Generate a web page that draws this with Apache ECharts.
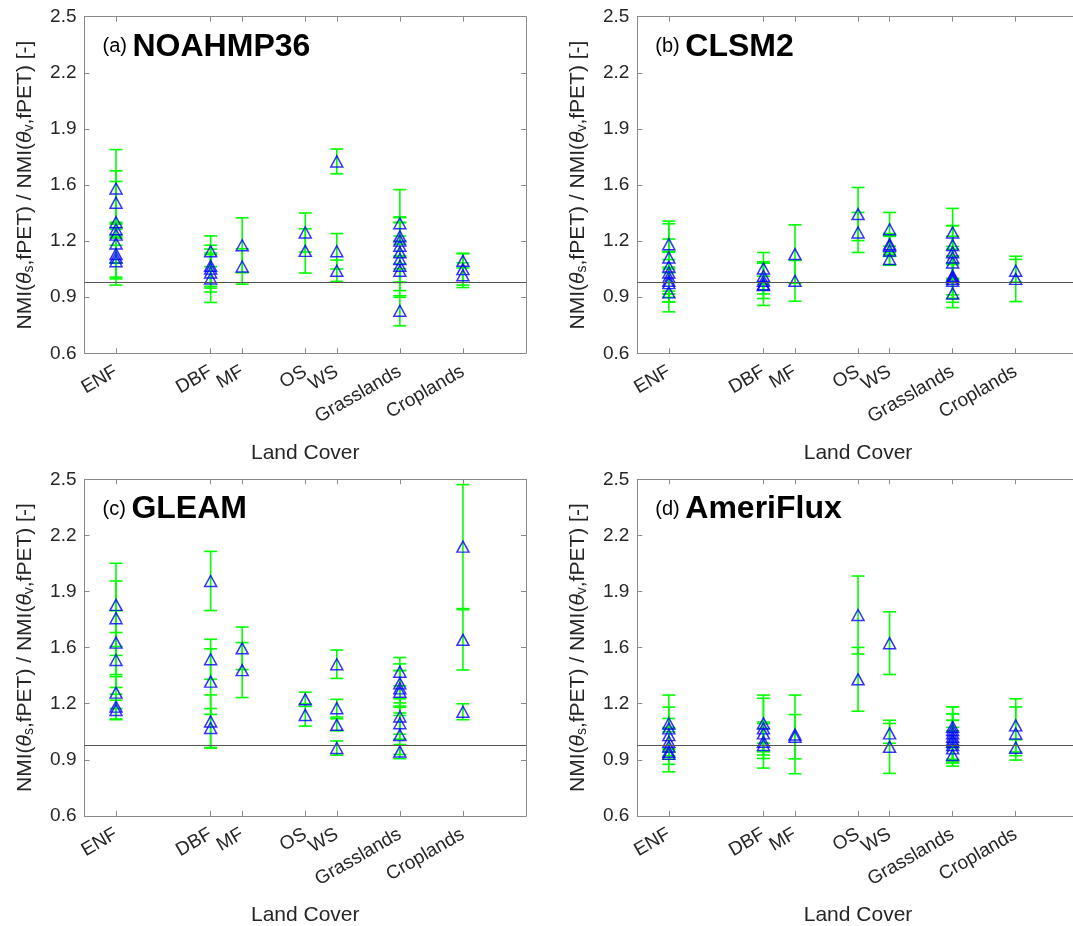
<!DOCTYPE html>
<html><head><meta charset="utf-8">
<script src="https://cdn.jsdelivr.net/npm/echarts@6/dist/echarts.min.js"></script>
<style>html,body{margin:0;padding:0;background:#fff}#c{width:1073px;height:926px}</style>
</head><body><div id="c"></div>
<script>
// ---- categories & axes ----
const landCovers = ['ENF', 'DBF', 'MF', 'OS', 'WS', 'Grasslands', 'Croplands'];
const landCoverPos = [1, 4, 5, 7, 8, 10, 12];
const yTickLabels = ['0.6', '0.9', '1.2', '1.6', '1.9', '2.2', '2.5'];
const yMin = 0.6, yMax = 2.5, xMin = 0, xMax = 14, refValue = 1;
const panelLabels = ['(a)', '(b)', '(c)', '(d)'];
const panelNames = ['NOAHMP36', 'CLSM2', 'GLEAM', 'AmeriFlux'];

// ---- data: [landCoverIndex, value, errorHalfWidth] ----
const noahmp36Points = [
  [0,1.53,0.22],[0,1.45,0.18],[0,1.34,0.23],[0,1.30,0.04],[0,1.27,0.06],[0,1.22,0.11],[0,1.16,0.14],[0,1.14,0.11],[0,1.12,0.135],
  [1,1.176,0.087],[1,1.094,0.116],[1,1.078,0.11],[1,1.056,0.11],[1,1.022,0.135],
  [2,1.21,0.155],[2,1.09,0.10],
  [3,1.282,0.11],[3,1.178,0.125],
  [4,1.683,0.07],[4,1.176,0.10],[4,1.066,0.06],
  [5,1.334,0.19],[5,1.26,0.11],[5,1.236,0.13],[5,1.207,0.13],[5,1.17,0.17],[5,1.132,0.13],[5,1.094,0.14],[5,1.066,0.15],[5,0.84,0.085],
  [6,1.122,0.04],[6,1.075,0.09],[6,1.041,0.07]
];
const clsm2Points = [
  [0,1.216,0.13],[0,1.141,0.19],[0,1.09,0.155],[0,1.056,0.12],[0,1.03,0.14],[0,1.009,0.12],[0,0.996,0.08],[0,0.944,0.11],
  [1,1.079,0.09],[1,1.037,0.08],[1,1.009,0.10],[1,0.99,0.12],[1,0.985,0.05],
  [2,1.16,0.165],[2,1.009,0.115],
  [3,1.386,0.15],[3,1.282,0.113],
  [4,1.30,0.095],[4,1.216,0.06],[4,1.207,0.06],[4,1.18,0.08],[4,1.132,0.035],
  [5,1.282,0.136],[5,1.211,0.11],[5,1.17,0.15],[5,1.141,0.12],[5,1.113,0.09],[5,1.038,0.15],[5,1.03,0.12],[5,1.02,0.09],[5,1.009,0.10],[5,0.938,0.08],
  [6,1.066,0.064],[6,1.02,0.128]
];
const gleamPoints = [
  [0,1.791,0.235],[0,1.716,0.21],[0,1.578,0.18],[0,1.48,0.155],[0,1.296,0.09],[0,1.217,0.07],[0,1.198,0.055],
  [1,1.926,0.167],[1,1.484,0.113],[1,1.358,0.185],[1,1.133,0.15],[1,1.096,0.11],
  [2,1.546,0.12],[2,1.423,0.155],
  [3,1.258,0.04],[3,1.17,0.063],
  [4,1.456,0.08],[4,1.208,0.05],[4,1.114,0.034],[4,0.983,0.04],
  [5,1.414,0.08],[5,1.348,0.11],[5,1.32,0.10],[5,1.301,0.12],[5,1.161,0.10],[5,1.123,0.09],[5,1.057,0.11],[5,0.963,0.04],
  [6,2.12,0.35],[6,1.594,0.17],[6,1.188,0.045]
];
const ameriFluxPoints = [
  [0,1.122,0.16],[0,1.094,0.12],[0,1.056,0.094],[0,1.019,0.08],[0,0.991,0.10],[0,0.962,0.113],[0,0.95,0.03],
  [1,1.122,0.16],[1,1.094,0.17],[1,1.066,0.055],[1,1.019,0.075],[1,1.0,0.13],
  [2,1.06,0.222],[2,1.047,0.125],
  [3,1.734,0.22],[3,1.371,0.18],
  [4,1.575,0.177],[4,1.066,0.056],[4,0.99,0.15],
  [5,1.103,0.113],[5,1.085,0.09],[5,1.066,0.15],[5,1.047,0.13],[5,1.03,0.11],[5,1.019,0.12],[5,1.0,0.10],[5,0.981,0.10],[5,0.944,0.04],
  [6,1.111,0.15],[6,1.065,0.15],[6,0.985,0.045]
];
const panelPoints = [noahmp36Points, clsm2Points, gleamPoints, ameriFluxPoints];

// ---- layout / style ----
const FONT = '"Liberation Sans", Arial, Helvetica, sans-serif';
const TXT = '#262626';
const AX = '#8a8a8a';
const gridPos = [
  {left: 84.5, top: 16.7}, {left: 637.3, top: 16.7},
  {left: 84.5, top: 479.3}, {left: 637.3, top: 479.3}
];
const GW = 441.5, GH = 336.6;

const yTickVals = yTickLabels.map((_, i) => yMin + i * (yMax - yMin) / (yTickLabels.length - 1));
function nearestIdx(arr, v) {
  let b = 0;
  for (let i = 1; i < arr.length; i++) if (Math.abs(arr[i] - v) < Math.abs(arr[b] - v)) b = i;
  return b;
}

const grid = [], xAxis = [], yAxis = [], series = [], title = [];
const axLine = {show: true, onZero: false, lineStyle: {color: AX, width: 1}};
const yName = '{n|NMI(}{t|θ}{s|s}{n|,fPET) / NMI(}{t|θ}{s|v}{n|,fPET) [-]}';

gridPos.forEach((g, i) => {
  grid.push({left: g.left, top: g.top, width: GW, height: GH, containLabel: false, outerBoundsMode: 'none'});
  // bottom x
  xAxis.push({
    gridIndex: i, type: 'value', min: xMin, max: xMax, position: 'bottom',
    axisLine: axLine,
    axisTick: {show: true, inside: true, length: 5, customValues: landCoverPos, lineStyle: {color: AX}},
    axisLabel: {show: true, customValues: landCoverPos, rotate: 30, margin: 17,
      formatter: v => landCovers[nearestIdx(landCoverPos, v)],
      fontSize: 19, color: TXT, fontFamily: FONT},
    splitLine: {show: false},
    name: 'Land Cover', nameLocation: 'middle', nameGap: 89,
    nameTextStyle: {fontSize: 21, color: TXT, fontFamily: FONT}
  });
  // top x (box)
  xAxis.push({
    gridIndex: i, type: 'value', min: xMin, max: xMax, position: 'top',
    axisLine: axLine,
    axisTick: {show: true, inside: true, length: 5, customValues: landCoverPos, lineStyle: {color: AX}},
    axisLabel: {show: false}, splitLine: {show: false}
  });
  // left y
  yAxis.push({
    gridIndex: i, type: 'value', min: yMin, max: yMax, position: 'left',
    axisLine: axLine,
    axisTick: {show: true, inside: true, length: 5, customValues: yTickVals, lineStyle: {color: AX}},
    axisLabel: {show: true, customValues: yTickVals, margin: 8,
      formatter: v => yTickLabels[nearestIdx(yTickVals, v)],
      fontSize: 19, color: TXT, fontFamily: FONT},
    splitLine: {show: false},
    name: yName, nameLocation: 'middle', nameGap: 48, nameRotate: 90,
    nameTextStyle: {
      fontSize: 21, color: TXT, fontFamily: FONT,
      rich: {
        n: {fontSize: 21, color: TXT, fontFamily: FONT, verticalAlign: 'top', lineHeight: 22},
        t: {fontSize: 21, color: TXT, fontFamily: FONT, fontStyle: 'italic', verticalAlign: 'top', lineHeight: 22},
        s: {fontSize: 14, color: TXT, fontFamily: FONT, verticalAlign: 'bottom', lineHeight: 14, padding: [11, 0, 0, 0]}
      }
    }
  });
  // right y (box)
  yAxis.push({
    gridIndex: i, type: 'value', min: yMin, max: yMax, position: 'right',
    axisLine: axLine,
    axisTick: {show: true, inside: true, length: 5, customValues: yTickVals, lineStyle: {color: AX}},
    axisLabel: {show: false}, splitLine: {show: false}
  });

  const pts = panelPoints[i];
  // error bars
  series.push({
    type: 'custom', xAxisIndex: 2 * i, yAxisIndex: 2 * i, silent: true,
    data: pts.map(p => [landCoverPos[p[0]], p[1], p[2]]),
    encode: {x: 0, y: 1},
    renderItem: (params, api) => {
      const x = api.value(0), v = api.value(1), e = api.value(2);
      const top = api.coord([x, v + e]), bot = api.coord([x, v - e]);
      const hw = 6.5;
      const st = {stroke: '#00ff00', lineWidth: 1.6};
      return {type: 'group', children: [
        {type: 'line', shape: {x1: top[0], y1: top[1], x2: bot[0], y2: bot[1]}, style: st},
        {type: 'line', shape: {x1: top[0] - hw, y1: top[1], x2: top[0] + hw, y2: top[1]}, style: st},
        {type: 'line', shape: {x1: bot[0] - hw, y1: bot[1], x2: bot[0] + hw, y2: bot[1]}, style: st}
      ]};
    },
    z: 2
  });
  // markers + reference line
  series.push({
    type: 'scatter', xAxisIndex: 2 * i, yAxisIndex: 2 * i, silent: true,
    data: pts.map(p => [landCoverPos[p[0]], p[1]]),
    symbol: 'triangle', symbolSize: [12, 11],
    itemStyle: {color: 'rgba(0,0,0,0)', borderColor: '#0000ff', borderWidth: 1.5},
    markLine: {
      silent: true, symbol: ['none', 'none'], label: {show: false},
      lineStyle: {color: '#555555', width: 1, type: 'solid'},
      data: [{yAxis: refValue}]
    },
    z: 3
  });
  // panel title
  title.push({
    text: '{a|' + panelLabels[i] + '} {b|' + panelNames[i] + '}',
    left: g.left + 18, top: g.top + 14, padding: 0,
    textStyle: {
      fontSize: 20, fontWeight: 'normal', fontFamily: FONT, color: '#000',
      rich: {
        a: {fontSize: 20, fontWeight: 'normal', fontFamily: FONT, color: '#000'},
        b: {fontSize: 32, fontWeight: 'bold', fontFamily: FONT, color: '#000'}
      }
    }
  });
});

const chart = echarts.init(document.getElementById('c'), null, {renderer: 'canvas'});
chart.setOption({
  animation: false,
  backgroundColor: '#ffffff',
  title, grid, xAxis, yAxis, series
});
</script>
</body></html>
